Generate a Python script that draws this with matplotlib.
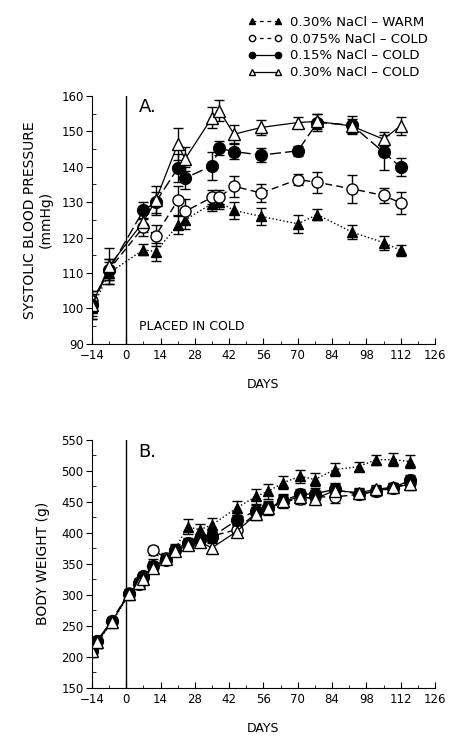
import matplotlib
matplotlib.use("Agg")
import matplotlib.pyplot as plt
from matplotlib.lines import Line2D
from matplotlib.ticker import MultipleLocator

plt.rcParams["font.family"] = ["DejaVu Sans"]

# ---------------- data ----------------
labels = ["0.30% NaCl \u2013 WARM", "0.075% NaCl \u2013 COLD",
          "0.15% NaCl \u2013 COLD", "0.30% NaCl \u2013 COLD"]

# panel A: systolic blood pressure (mmHg)
days_a = [-14, -7, 7, 12, 21, 24, 35, 38, 44, 55, 70, 78, 92, 105, 112]
sbp_warm = [100, 110, 116.6, 116, 123.5, 125, 129.6, 130, 127.7, 126, 123.9, 126.5, 121.6, 118.6, 116.4]
sbp_c075 = [102, 111, 123, 120.6, 130.5, 127.4, 131.4, 131.5, 134.5, 132.6, 136.4, 135.6, 133.8, 131.9, 129.8]
sbp_c15 = [101, 111, 127.7, 130, 139.6, 136.8, 140.3, 145.2, 144.3, 143.3, 144.5, 152.5, 151.8, 144.1, 139.9]
sbp_c30 = [101, 112, 124.5, 130.5, 146.4, 142.2, 153.9, 155.8, 149.2, 151.1, 152.5, 152.8, 151.5, 147.8, 151.6]
sbp_warm_err = [3, 3, 1.5, 2.5, 2.5, 2.5, 2, 2, 2.5, 2.5, 2.5, 1.5, 2, 2, 1.5]
sbp_c075_err = [3, 3, 2.5, 3, 4, 3.5, 2, 2, 3, 2.5, 1.5, 3, 4, 2, 3]
sbp_c15_err = [3, 3, 2.5, 3, 4, 3, 4, 2, 2, 2, 1.5, 2.5, 2.5, 5, 2.5]
sbp_c30_err = [4, 5, 3, 4, 4.5, 3.5, 3, 3, 2.5, 2, 1.5, 2, 2, 2, 2.5]

# panel B: body weight (g)
days_b = [-14, -12, -6, 1, 5, 7, 11, 16, 20, 25, 30, 35, 45, 53, 58, 64, 71, 77, 85, 95, 102, 109, 116]
bw_warm = [208, 222, 255, 300, 318, 328, 350, 358, 374, 410, 405, 413, 440, 459, 467, 481, 491, 486, 502, 507, 518, 518, 515]
bw_c075 = [212, 225, 258, 303, 320, 327, 372, 360, 372, 382, 388, 395, 405, 432, 438, 450, 455, 458, 458, 462, 467, 472, 480]
bw_c15 = [210, 226, 257, 302, 318, 330, 346, 356, 373, 384, 390, 394, 420, 436, 442, 452, 462, 463, 470, 462, 468, 473, 485]
bw_c30 = [209, 224, 256, 301, 319, 326, 344, 357, 370, 380, 385, 376, 402, 430, 440, 451, 458, 455, 468, 465, 470, 474, 478]
bw_err_warm = [7, 7, 7, 7, 7, 7, 8, 8, 8, 12, 10, 11, 12, 12, 12, 10, 10, 10, 11, 8, 8, 10, 10]
bw_err_cold = [6, 6, 6, 6, 6, 6, 7, 7, 7, 8, 8, 8, 8, 9, 9, 10, 9, 9, 10, 8, 7, 7, 9]

STYLES = [
    dict(marker="^", linestyle=":", mfc="black", lw=1.0, ms=7.5),
    dict(marker="o", linestyle=(0, (5, 3)), mfc="white", lw=1.0, ms=8),
    dict(marker="o", linestyle=(0, (8, 3)), mfc="black", lw=1.0, ms=8.5),
    dict(marker="^", linestyle="-", mfc="white", lw=0.9, ms=8),
]
# the legend draws its own key lines
LEGEND_LS = [(0, (3, 3)), (0, (3, 3)), "-", "-"]


def _plot(ax, x, y, err, st):
    ax.errorbar(x, y, yerr=err, color="black", ecolor="black", elinewidth=1.0,
                capsize=3.5, capthick=1.0, marker=st["marker"], linestyle=st["linestyle"],
                linewidth=st["lw"], markersize=st["ms"], markerfacecolor=st["mfc"],
                markeredgecolor="black", markeredgewidth=1.0)


def _style(ax):
    for s in ("top", "right"):
        ax.spines[s].set_visible(False)
    ax.set_xlim(-14, 126)
    ax.xaxis.set_major_locator(MultipleLocator(14))
    ax.xaxis.set_minor_locator(MultipleLocator(7))
    ax.tick_params(axis="x", which="major", direction="in", length=4, labelsize=8.5, pad=4)
    ax.tick_params(axis="x", which="minor", direction="in", length=2)
    ax.tick_params(axis="y", which="major", direction="out", length=4, labelsize=8.5, pad=2)
    ax.tick_params(axis="y", which="minor", direction="in", length=3)
    ax.axvline(0, color="black", lw=1.0)
    ax.set_xlabel("DAYS", fontsize=9, labelpad=11)


fig = plt.figure(figsize=(4.51, 7.38), dpi=100)
ax_a = fig.add_axes([0.204, 0.534, 0.7605, 0.336])
ax_b = fig.add_axes([0.204, 0.068, 0.7605, 0.336])

# ---------------- panel A ----------------
sbp = [(sbp_warm, sbp_warm_err), (sbp_c075, sbp_c075_err), (sbp_c15, sbp_c15_err), (sbp_c30, sbp_c30_err)]
for (y, e), st in zip(sbp, STYLES):
    _plot(ax_a, days_a, y, e, st)
_style(ax_a)
ax_a.set_ylim(90, 160)
ax_a.yaxis.set_major_locator(MultipleLocator(10))
ax_a.yaxis.set_minor_locator(MultipleLocator(5))
ax_a.set_ylabel("SYSTOLIC BLOOD PRESSURE\n(mmHg)", fontsize=10, labelpad=6)
ax_a.text(5, 157, "A.", fontsize=13, va="center")
ax_a.text(5, 95, "PLACED IN COLD", fontsize=9, va="center")

# ---------------- panel B ----------------
bw = [(bw_warm, bw_err_warm), (bw_c075, bw_err_cold), (bw_c15, bw_err_cold), (bw_c30, bw_err_cold)]
for (y, e), st in zip(bw, STYLES):
    _plot(ax_b, days_b, y, e, st)
_style(ax_b)
ax_b.set_ylim(150, 550)
ax_b.yaxis.set_major_locator(MultipleLocator(50))
ax_b.yaxis.set_minor_locator(MultipleLocator(25))
ax_b.set_ylabel("BODY WEIGHT (g)", fontsize=10, labelpad=8)
ax_b.text(5, 531, "B.", fontsize=13, va="center")

# legend above panel A
handles = [Line2D([], [], color="black", lw=0.9, linestyle=ls, marker=st["marker"],
                  markersize=4.5, markerfacecolor=st["mfc"], markeredgecolor="black")
           for st, ls in zip(STYLES, LEGEND_LS)]
fig.legend(handles, labels, loc="upper right", bbox_to_anchor=(0.975, 0.995), frameon=False,
           fontsize=9.5, numpoints=2, handlelength=2.6, handletextpad=0.6,
           labelspacing=0.3)

fig.savefig("out.png", dpi=100)
